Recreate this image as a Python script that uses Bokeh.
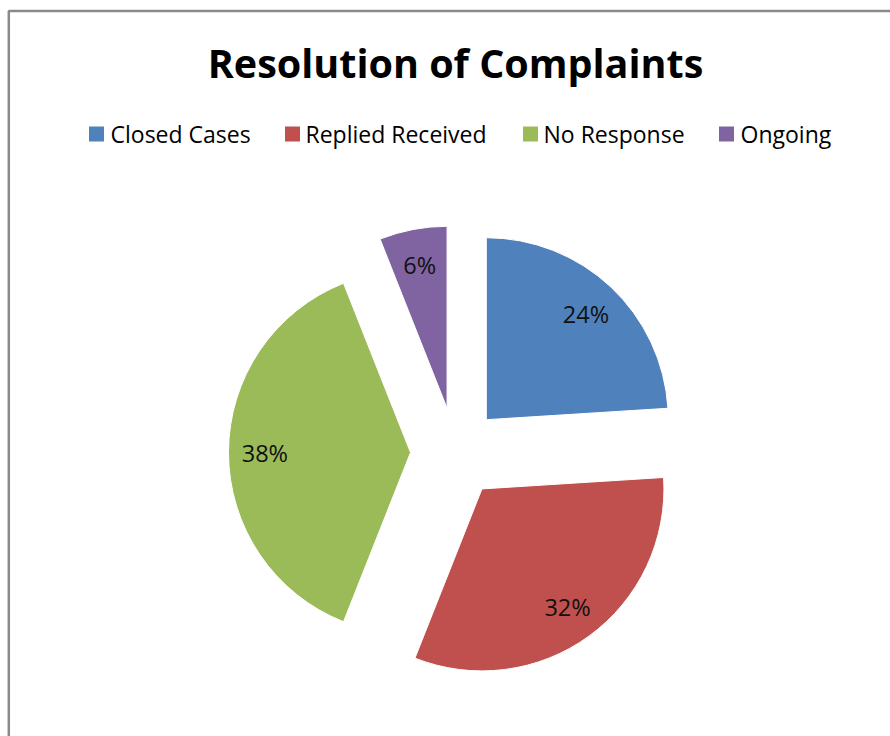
import math
from bokeh.plotting import figure
from bokeh.models import Range1d, ColumnDataSource
from bokeh.core.properties import value
from bokeh.embed import file_html
from bokeh.resources import INLINE

# ---- data ----
title = "Resolution of Complaints"
categories = ["Closed Cases", "Replied Received", "No Response", "Ongoing"]
percent = [24, 32, 38, 6]
colors = ["#4F81BD", "#C0504D", "#9BBB59", "#8064A2"]

# ---- layout constants (page pixels) ----
W, H = 890, 736
def Y(py):
    return H - py

cx, cy = 455, Y(452)
radius = 182
explode = 45
label_frac = 0.8
FONT = "Open Sans"

p = figure(width=W, height=H, output_backend="svg", toolbar_location=None,
           x_range=Range1d(0, W), y_range=Range1d(0, H),
           x_axis_type=None, y_axis_type=None, min_border=0,
           outline_line_color=None, background_fill_color="white",
           border_fill_color="white")

# chart frame (left & top edges visible)
p.line(x=[8.3, 8.3, 900], y=[Y(760), Y(10.5), Y(10.5)], line_color="#8a8a8a",
       line_width=2.5)

total = sum(percent)
xs, ys, starts, ends, lx, ly, labels = [], [], [], [], [], [], []
cum = 0.0
for v in percent:
    a0 = cum / total * 360.0
    a1 = (cum + v) / total * 360.0
    mid = (a0 + a1) / 2.0
    m = math.radians(90 - mid)
    ox = cx + explode * math.cos(m)
    oy = cy + explode * math.sin(m)
    xs.append(ox)
    ys.append(oy)
    starts.append(math.radians(90 - a0))
    ends.append(math.radians(90 - a1))
    lx.append(ox + label_frac * radius * math.cos(m))
    ly.append(oy + label_frac * radius * math.sin(m))
    labels.append(f"{v}%")
    cum += v

src = ColumnDataSource(dict(x=xs, y=ys, start=starts, end=ends, color=colors,
                            lx=lx, ly=ly, label=labels))
p.wedge(x="x", y="y", radius=radius, start_angle="start", end_angle="end",
        direction="clock", fill_color="color", line_color="white",
        line_width=1, source=src)
p.text(x="lx", y="ly", text="label", source=src, text_font=value(FONT),
       text_font_size="23.5px", text_color="#111111", text_align="center",
       text_baseline="middle")

# title
p.text(x=[455], y=[Y(62)], text=[title], text_font=value(FONT),
       text_font_size="39.5px", text_font_style="bold", text_color="black",
       text_align="center", text_baseline="middle")

# legend (manual)
sq_x = [96, 292, 530, 726]
txt_x = [110, 305, 543, 740]
p.rect(x=sq_x, y=[Y(133.5)] * 4, width=15, height=15, fill_color=colors,
       line_color=None)
p.text(x=txt_x, y=[Y(133.5)] * 4, text=categories, text_font=value(FONT),
       text_font_size="23px", text_color="black", text_align="left",
       text_baseline="middle")

open("out.html", "w").write(file_html(p, INLINE))
